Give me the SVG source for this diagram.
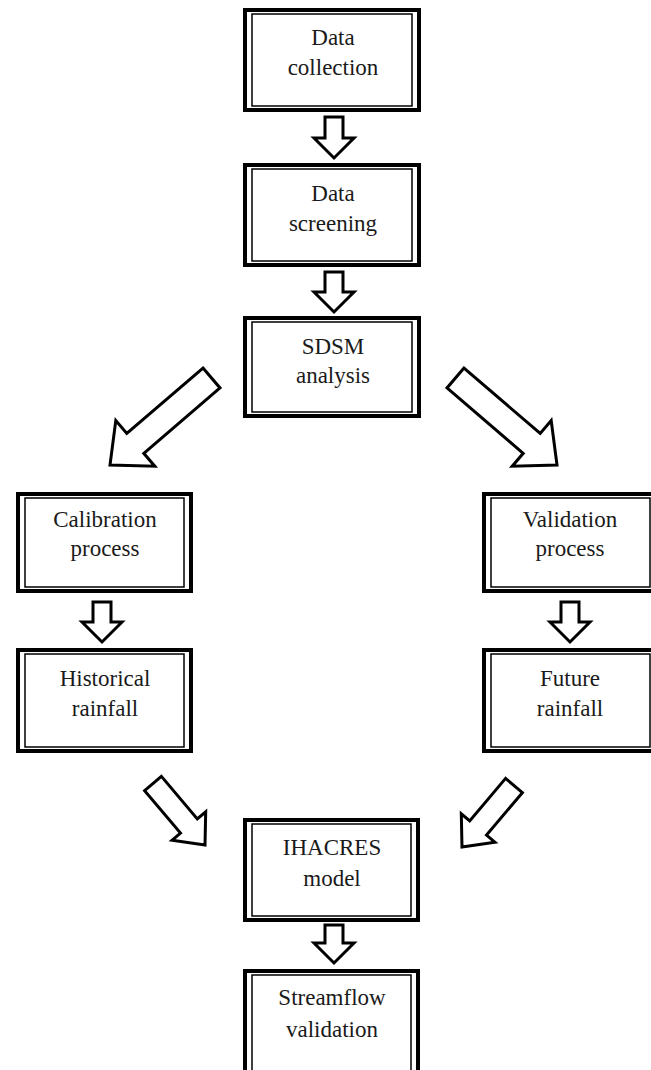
<svg xmlns="http://www.w3.org/2000/svg" width="651" height="1070" viewBox="0 0 651 1070">
<style>
.o{fill:#fff;stroke:#000;stroke-width:4}
.i{fill:none;stroke:#000;stroke-width:1.5}
.t{font-family:"Liberation Serif","Times New Roman",serif;font-size:23px;fill:#1a1a1a;text-anchor:middle}
.a{fill:#fff;stroke:#000;stroke-width:3;stroke-linejoin:miter}
</style>
<rect width="651" height="1070" fill="#fff"/>
<g id="connectors">
<polygon class="a" points="325,117 343,117 343,138 354,138 334,158 314,138 325,138"/>
<polygon class="a" points="325,272 343,272 343,292 354,292 334,312 314,292 325,292"/>
<polygon class="a" points="93,602 111,602 111,622 122,622 102,642 82,622 93,622"/>
<polygon class="a" points="561,602 579,602 579,622 590,622 570,642 550,622 561,622"/>
<polygon class="a" points="325,925 343,925 343,943 354,943 334,963 314,943 325,943"/>
<polygon class="a" points="203,368.1 220,387.9 143.8,453.3 154.8,466.2 110,465 115.8,420.6 126.8,433.5"/>
<polygon class="a" points="464,368.1 447,387.9 523.2,453.3 512.2,466.2 557,465 551.2,420.6 540.2,433.5"/>
<polygon class="a" points="161.4,776.4 197.3,818.9 205.7,811.8 205,845 172.1,840.2 180.5,833.1 144.6,790.6"/>
<polygon class="a" points="505.6,778.4 469.7,820.9 461.3,813.8 462,847 494.9,842.2 486.5,835.1 522.4,792.6"/>
</g>
<g id="n1"><rect class="o" x="245" y="10" width="174" height="100"/><rect class="i" x="252" y="14" width="160" height="92"/><text class="t" x="333" y="45">Data</text><text class="t" x="333" y="75">collection</text></g>
<g id="n2"><rect class="o" x="245" y="165" width="174" height="100"/><rect class="i" x="252" y="169" width="160" height="92"/><text class="t" x="333" y="201">Data</text><text class="t" x="333" y="231">screening</text></g>
<g id="n3"><rect class="o" x="245" y="318" width="174" height="98"/><rect class="i" x="252" y="322" width="160" height="90"/><text class="t" x="333" y="354">SDSM</text><text class="t" x="333" y="383">analysis</text></g>
<g id="n4"><rect class="o" x="18" y="494" width="173" height="97"/><rect class="i" x="25" y="498" width="159" height="89"/><text class="t" x="105" y="527">Calibration</text><text class="t" x="105" y="556">process</text></g>
<g id="n5"><rect class="o" x="484" y="494" width="173" height="97"/><rect class="i" x="491" y="498" width="159" height="89"/><text class="t" x="570" y="527">Validation</text><text class="t" x="570" y="556">process</text></g>
<g id="n6"><rect class="o" x="18" y="650" width="173" height="101"/><rect class="i" x="25" y="654" width="159" height="93"/><text class="t" x="105" y="686">Historical</text><text class="t" x="105" y="716">rainfall</text></g>
<g id="n7"><rect class="o" x="484" y="650" width="173" height="101"/><rect class="i" x="491" y="654" width="159" height="93"/><text class="t" x="570" y="686">Future</text><text class="t" x="570" y="716">rainfall</text></g>
<g id="n8"><rect class="o" x="245" y="820" width="173" height="100"/><rect class="i" x="252" y="824" width="159" height="92"/><text class="t" x="332" y="855">IHACRES</text><text class="t" x="332" y="886">model</text></g>
<g id="n9"><rect class="o" x="245" y="971" width="173" height="106"/><rect class="i" x="252" y="975" width="159" height="98"/><text class="t" x="332" y="1005">Streamflow</text><text class="t" x="332" y="1037">validation</text></g>
</svg>
